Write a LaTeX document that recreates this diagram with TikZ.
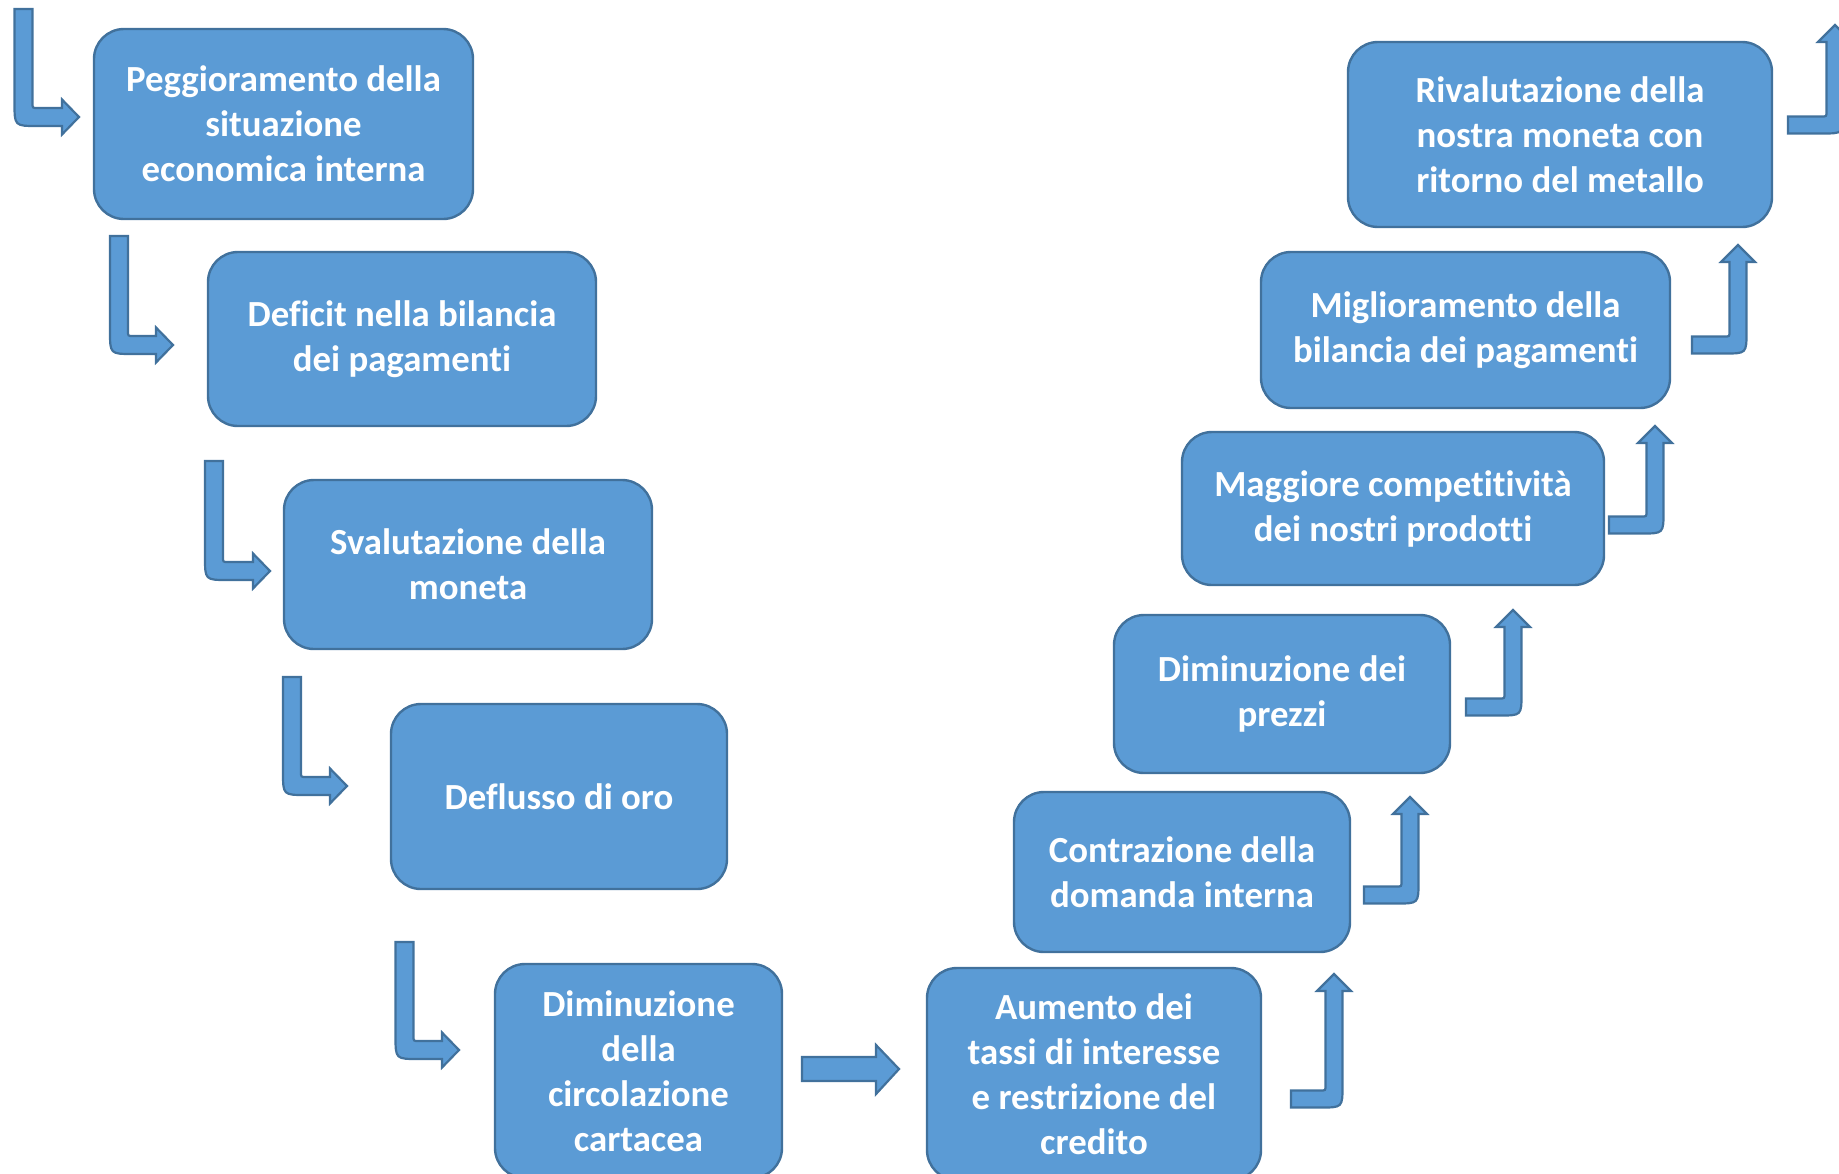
\documentclass[tikz,border=0pt]{standalone}
\usepackage{fontspec}
\setmainfont{Carlito}[Ligatures=NoCommon]
\definecolor{riempi}{RGB}{91,155,213}
\definecolor{bordo}{RGB}{65,113,156}

\tikzset{casella/.style = {draw=bordo, fill=riempi, line width=1.2pt,
                           rounded corners=15pt, text=white, align=center,
                           inner sep=0pt, outer sep=0pt,
                           font=\fontsize{18.4pt}{22.5pt}\selectfont\bfseries},
         freccia/.style = {draw=bordo, fill=riempi, line width=1.1pt, line join=miter}
        }

% freccia piegata: giu e poi a destra  {x asta}{y inizio}{y punta}{x punta}
\newcommand{\frecciaGiu}[4]{%
  \draw[freccia] (#1-9,#2) -- (#1+9,#2) -- (#1+9,#3-14)
     .. controls (#1+9,#3-9) .. (#1+14,#3-9) -- (#4-17,#3-9)
     -- (#4-17,#3-17.5) -- (#4,#3) -- (#4-17,#3+17.5) -- (#4-17,#3+9)
     -- (#1+14,#3+9) .. controls (#1-9,#3+9) .. (#1-9,#3-14) -- cycle;}
% freccia piegata: a destra e poi su  {x inizio}{y asta}{x punta}{y punta}
\newcommand{\frecciaSu}[4]{%
  \draw[freccia] (#1,#2+8.5) -- (#1,#2-8.5) -- (#3-13.5,#2-8.5)
     .. controls (#3-8.5,#2-8.5) .. (#3-8.5,#2-13.5) -- (#3-8.5,#4+17)
     -- (#3-17,#4+17) -- (#3,#4) -- (#3+17,#4+17) -- (#3+8.5,#4+17)
     -- (#3+8.5,#2-13.5) .. controls (#3+8.5,#2+8.5) .. (#3-13.5,#2+8.5) -- cycle;}

\begin{document}
\begin{tikzpicture}[x=0.5pt, y=-0.5pt]
  \useasboundingbox (0,0) rectangle (1839,1173);

  % discesa
  \node[casella, minimum width=189.5pt, minimum height=95pt] (peggio) at (283.5,124)
       {Peggioramento della\\situazione\\economica interna};
  \node[casella, minimum width=194pt, minimum height=87pt] (deficit) at (402,339)
       {Deficit nella bilancia\\dei pagamenti};
  \node[casella, minimum width=184pt, minimum height=84.5pt] (svalut) at (468,564.5)
       {Svalutazione della\\moneta};
  \node[casella, minimum width=168pt, minimum height=92.5pt] (deflusso) at (559,796.5)
       {Deflusso di oro};
  \node[casella, minimum width=143.5pt, minimum height=107pt] (circol) at (638.5,1071)
       {Diminuzione\\della\\circolazione\\cartacea};
  % risalita
  \node[casella, minimum width=167pt, minimum height=106pt] (tassi) at (1094,1074)
       {Aumento dei\\tassi di interesse\\e restrizione del\\credito};
  \node[casella, minimum width=168pt, minimum height=80pt] (contraz) at (1182,872)
       {Contrazione della\\domanda interna};
  \node[casella, minimum width=168pt, minimum height=79pt] (prezzi) at (1282,694)
       {Diminuzione dei\\prezzi};
  \node[casella, minimum width=211pt, minimum height=76.5pt] (compet) at (1393,508.5)
       {Maggiore competitività\\dei nostri prodotti};
  \node[casella, minimum width=204.5pt, minimum height=78pt] (miglior) at (1465.5,330)
       {Miglioramento della\\bilancia dei pagamenti};
  \node[casella, minimum width=212pt, minimum height=92.5pt] (rivalut) at (1560,134.5)
       {Rivalutazione della\\nostra moneta con\\ritorno del metallo};

  % frecce
  \frecciaGiu{23.5}{9}{117}{79}
  \frecciaGiu{119}{236}{345}{173}
  \frecciaGiu{214}{461}{571}{270}
  \frecciaGiu{292}{677}{786}{347}
  \frecciaGiu{404.5}{942}{1050}{459}
  \draw[freccia] (802,1057) -- (876,1057) -- (876,1045) -- (899,1069)
       -- (876,1094) -- (876,1081) -- (802,1081) -- cycle;
  \frecciaSu{1291}{1099}{1334}{974}
  \frecciaSu{1364}{895}{1410}{797}
  \frecciaSu{1466}{707}{1513}{610}
  \frecciaSu{1609}{525}{1655}{426}
  \frecciaSu{1692}{345}{1738}{245}
  \frecciaSu{1788}{125}{1835}{25}
\end{tikzpicture}
\end{document}
